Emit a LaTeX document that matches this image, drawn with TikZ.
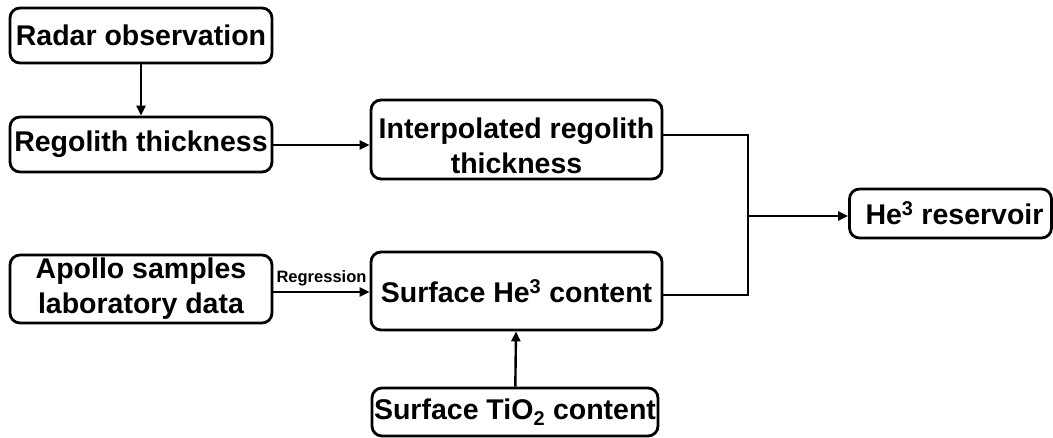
\documentclass[tikz,border=0pt]{standalone}
\usepackage{fontspec}
\setmainfont{Liberation Sans}
\usetikzlibrary{arrows.meta,calc}
\begin{document}
\begin{tikzpicture}[x=1pt,y=-1pt,
  box/.style={draw,line width=2.8pt,rounded corners=10pt,inner sep=0pt,align=center,
    font=\fontsize{28.5}{35}\selectfont\bfseries},
  txt/.style={inner sep=0pt,align=center,font=\fontsize{28.5}{35}\selectfont\bfseries},
  conn/.style={line width=2.4pt,-{Triangle[length=10pt,width=9pt]}},
  line/.style={line width=2.4pt}]
\useasboundingbox (0,0) rectangle (1053,438);
\node[box,minimum width=262pt,minimum height=55pt] (radar) at (141,35.5) {Radar observation};
\node[box,minimum width=262pt,minimum height=55pt] (rego) at (141,144.5) {Regolith thickness};
\node[box,minimum width=291pt,minimum height=79pt] (interp) at (516.5,139.5) {};
\node[txt] (interptxt) at (516.5,146) {Interpolated regolith\\thickness};
\node[box,minimum width=262pt,minimum height=68pt] (apollo) at (141,289) {Apollo samples\\laboratory data};
\node[box,minimum width=291pt,minimum height=78pt] (surf) at (516.5,291) {Surface He\textsuperscript{3} content};
\node[box,minimum width=286pt,minimum height=48pt] (tio) at (515,412) {Surface TiO\textsubscript{2} content};
\node[box,minimum width=202pt,minimum height=49pt] (res) at (950.5,213.5) {\hspace*{8pt}He\textsuperscript{3} reservoir};
\coordinate (J) at (748,216);
\draw[conn] (radar) -- (rego);
\draw[conn] ([yshift=-0.5pt]rego.east) -- ([yshift=-0.5pt]rego.east -| interp.west);
\draw[conn] ([yshift=-3pt]apollo.east) -- node[above=1pt,font=\fontsize{16.5}{18}\selectfont\bfseries] (reg) {Regression} ([yshift=-3pt]apollo.east -| surf.west);
\draw[conn] (tio) -- (surf);
\draw[line] ([yshift=4.5pt]interp.east) -| (J) |- ([yshift=-4pt]surf.east);
\draw[conn] (J) -- (J -| res.west);
\end{tikzpicture}
\end{document}
